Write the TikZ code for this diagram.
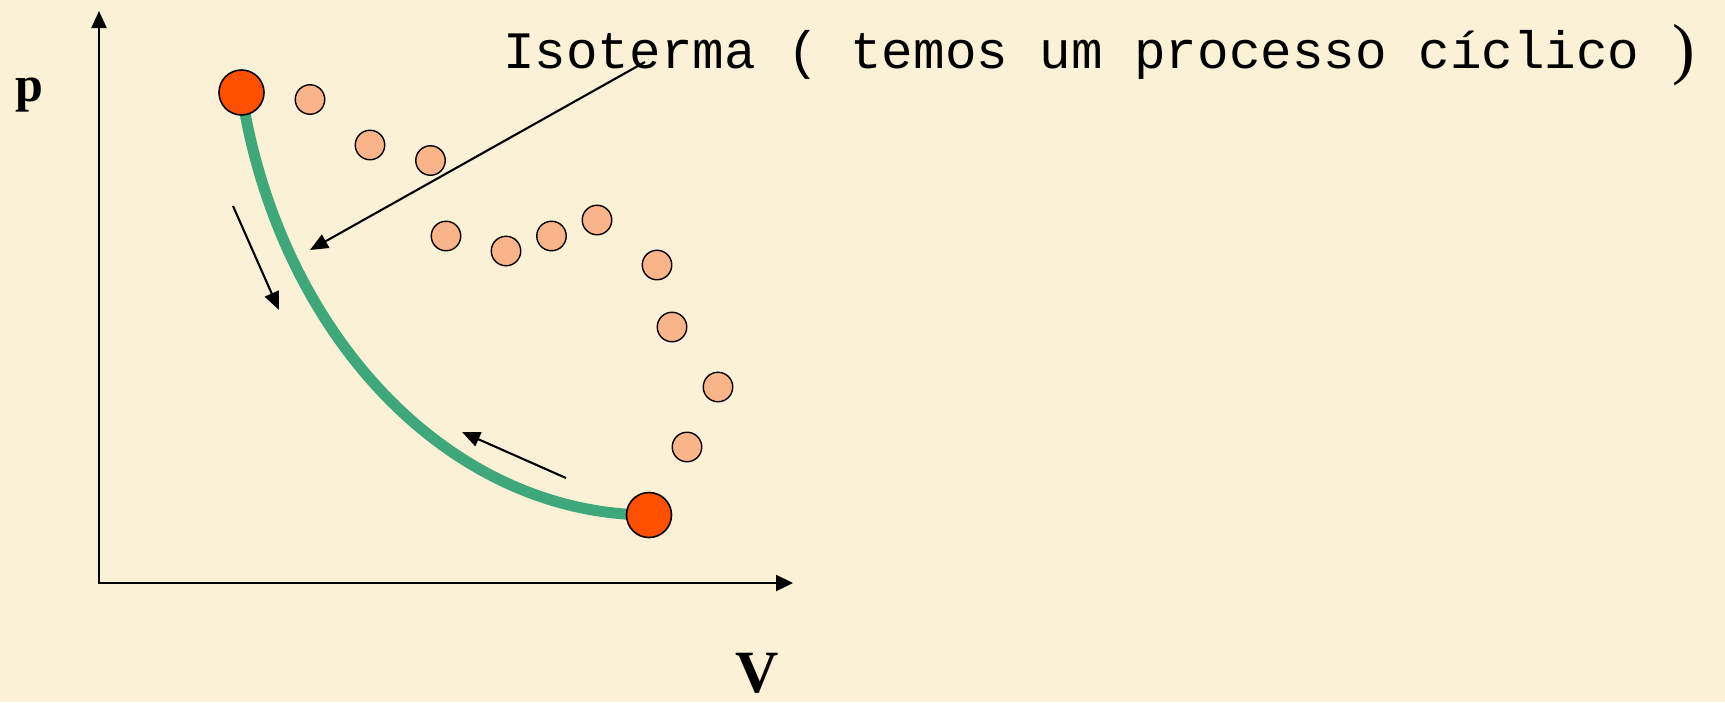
\documentclass[tikz,border=0pt]{standalone}
\usepackage{fontspec}
\setmainfont{Liberation Serif}
\newfontfamily\monofont{Liberation Mono}
\usetikzlibrary{arrows.meta}
\pgfdeclarelayer{back}
\pgfdeclarelayer{mid}
\pgfsetlayers{back,mid,main}
\definecolor{bgcol}{RGB}{251,241,215}
\definecolor{hot}{RGB}{255,80,0}
\definecolor{warm}{RGB}{250,180,138}
\definecolor{iso}{RGB}{62,168,122}
\tikzset{
  bigdot/.style={circle, draw=black, line width=1.6pt, fill=hot, minimum size=45pt, inner sep=0pt},
  smalldot/.style={circle, draw=black, line width=1.4pt, fill=warm, minimum size=29.5pt, inner sep=0pt},
  axisline/.style={line width=2.3pt, {Triangle[length=17pt,width=15pt]}-{Triangle[length=17pt,width=16pt]}},
  pointer/.style={line width=2.1pt, -{Triangle[length=18pt,width=15pt]}},
  isoline/.style={line width=11pt, draw=iso},
  lbl/.style={inner sep=0pt, anchor=base}
}
\begin{document}
\begin{tikzpicture}[x=1pt,y=-1pt]
\begin{pgfonlayer}{back}
\fill[bgcol] (0,0) rectangle (1725,702);
\end{pgfonlayer}
\useasboundingbox (0,0) rectangle (1725,702);

% axes
\coordinate (O) at (99,583);
\coordinate (ytop) at (99,11);
\coordinate (xend) at (793,583);
\draw[axisline] (ytop) -- (O) -- (xend);

% labels
\node[lbl, font=\bfseries\fontsize{50}{56}\selectfont] (plabel) at (29,101) {p};
\node[lbl, font=\bfseries\fontsize{60}{66}\selectfont] (vlabel) at (757,692) {V};
\node[inner sep=0pt, anchor=base west, font=\monofont\fontsize{52.6}{60}\selectfont] (title) at (503,68) {Isoterma ( temos um processo cíclico};
\node[lbl, font=\fontsize{68}{72}\selectfont] (paren) at (1684,71) {)};

% states
\node[bigdot] (a) at (241.5,92.5) {};
\node[bigdot] (b) at (649,515) {};

% cycle points
\node[smalldot] (s1) at (310,99.5) {};
\node[smalldot] (s2) at (370,145) {};
\node[smalldot] (s3) at (430.5,160.5) {};
\node[smalldot] (s4) at (446,236) {};
\node[smalldot] (s5) at (506,251) {};
\node[smalldot] (s6) at (551.5,236) {};
\node[smalldot] (s7) at (597,220) {};
\node[smalldot] (s8) at (657,265) {};
\node[smalldot] (s9) at (672,327) {};
\node[smalldot] (s10) at (718,387) {};
\node[smalldot] (s11) at (687,447) {};

% isotherm
\begin{pgfonlayer}{mid}
\draw[isoline] (a.center) .. controls (278,330) and (445,514) .. (b.center);
\end{pgfonlayer}

% arrows
\coordinate (t1) at (645,62);
\coordinate (h1) at (310,250);
\draw[pointer] (t1) -- (h1);
\coordinate (t2) at (233,206);
\coordinate (h2) at (279,310);
\draw[pointer] (t2) -- (h2);
\coordinate (t3) at (566,478);
\coordinate (h3) at (462,432);
\draw[pointer] (t3) -- (h3);
\end{tikzpicture}
\end{document}
